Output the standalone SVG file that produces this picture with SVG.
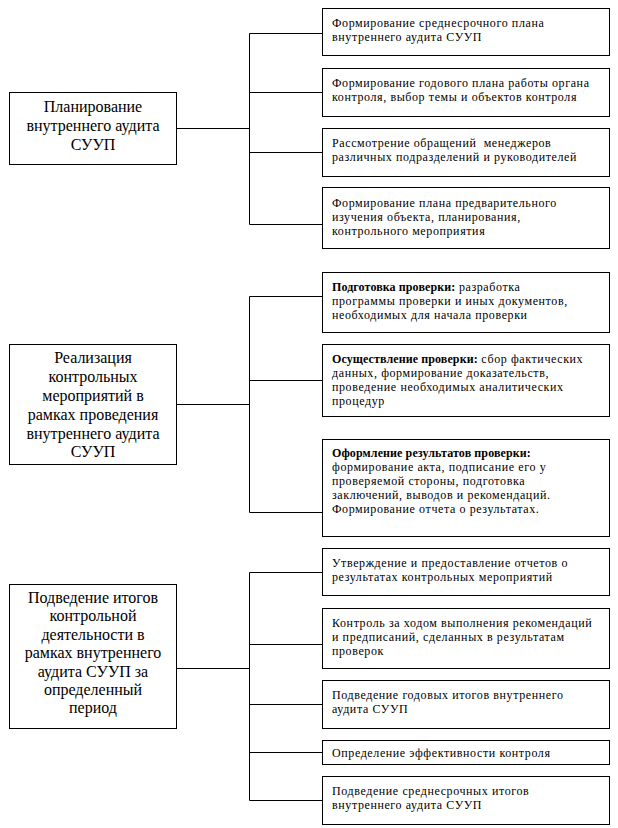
<svg xmlns="http://www.w3.org/2000/svg" width="618" height="828" viewBox="0 0 618 828">
<style>
.box{fill:#fff;stroke:#000;stroke-width:1}
.ln{stroke:#000;stroke-width:1;fill:none}
.lt{font-family:"Liberation Serif","Times New Roman",serif;font-size:16px;fill:#000;text-anchor:middle}
.rt{font-family:"Liberation Serif","Times New Roman",serif;font-size:12px;fill:#000;letter-spacing:0.6px}
.b{font-weight:bold;letter-spacing:0.1px}
</style>
<rect width="618" height="828" fill="#fff"/>
<g id="connectors">
<path class="ln" d="M176.5 128.5H249.5M249.5 33.5V224.5M249.5 33.5H322.5M249.5 92.5H322.5M249.5 152.5H322.5M249.5 224.5H322.5"/>
<path class="ln" d="M176.5 404.5H249.5M249.5 296.5V512.5M249.5 296.5H322.5M249.5 380.5H322.5M249.5 512.5H322.5"/>
<path class="ln" d="M176.5 668.5H249.5M249.5 572.5V800.5M249.5 572.5H322.5M249.5 644.5H322.5M249.5 704.5H322.5M249.5 752.5H322.5M249.5 800.5H322.5"/>
</g>
<g id="left1">
<rect class="box" x="9.5" y="92.5" width="167" height="72"/>
<text class="lt" x="93" y="112">Планирование</text>
<text class="lt" x="93" y="131">внутреннего аудита</text>
<text class="lt" x="93" y="150">СУУП</text>
</g>
<g id="r1a">
<rect class="box" x="322.5" y="8.5" width="287" height="47"/>
<text class="rt" x="332" y="27">Формирование среднесрочного плана</text>
<text class="rt" x="332" y="41">внутреннего аудита СУУП</text>
</g>
<g id="r1b">
<rect class="box" x="322.5" y="68.5" width="287" height="48"/>
<text class="rt" x="332" y="87">Формирование годового плана работы органа</text>
<text class="rt" x="332" y="101">контроля, выбор темы и объектов контроля</text>
</g>
<g id="r1c">
<rect class="box" x="322.5" y="128.5" width="287" height="48"/>
<text class="rt" x="332" y="147" xml:space="preserve">Рассмотрение обращений  менеджеров</text>
<text class="rt" x="332" y="161">различных подразделений и руководителей</text>
</g>
<g id="r1d">
<rect class="box" x="322.5" y="187.5" width="287" height="61"/>
<text class="rt" x="332" y="207">Формирование плана предварительного</text>
<text class="rt" x="332" y="221">изучения объекта, планирования,</text>
<text class="rt" x="332" y="235">контрольного мероприятия</text>
</g>
<g id="left2">
<rect class="box" x="9.5" y="344.5" width="167" height="120"/>
<text class="lt" x="93" y="363">Реализация</text>
<text class="lt" x="93" y="382">контрольных</text>
<text class="lt" x="93" y="401">мероприятий в</text>
<text class="lt" x="93" y="420">рамках проведения</text>
<text class="lt" x="93" y="439">внутреннего аудита</text>
<text class="lt" x="93" y="457">СУУП</text>
</g>
<g id="r2a">
<rect class="box" x="322.5" y="272.5" width="287" height="60"/>
<text class="rt" x="332" y="291"><tspan class="b">Подготовка проверки:</tspan> разработка</text>
<text class="rt" x="332" y="305">программы проверки и иных документов,</text>
<text class="rt" x="332" y="319">необходимых для начала проверки</text>
</g>
<g id="r2b">
<rect class="box" x="322.5" y="344.5" width="287" height="72"/>
<text class="rt" x="332" y="363"><tspan class="b">Осуществление проверки:</tspan> сбор фактических</text>
<text class="rt" x="332" y="377">данных, формирование доказательств,</text>
<text class="rt" x="332" y="391">проведение необходимых аналитических</text>
<text class="rt" x="332" y="405">процедур</text>
</g>
<g id="r2c">
<rect class="box" x="322.5" y="439.5" width="287" height="97"/>
<text class="rt b" x="332" y="457">Оформление результатов проверки:</text>
<text class="rt" x="332" y="471">формирование акта, подписание его у</text>
<text class="rt" x="332" y="485">проверяемой стороны, подготовка</text>
<text class="rt" x="332" y="499">заключений, выводов и рекомендаций.</text>
<text class="rt" x="332" y="513">Формирование отчета о результатах.</text>
</g>
<g id="left3">
<rect class="box" x="9.5" y="584.5" width="167" height="144"/>
<text class="lt" x="93" y="603">Подведение итогов</text>
<text class="lt" x="93" y="621.4">контрольной</text>
<text class="lt" x="93" y="639.8">деятельности в</text>
<text class="lt" x="93" y="658.2">рамках внутреннего</text>
<text class="lt" x="93" y="676.6">аудита СУУП за</text>
<text class="lt" x="93" y="695">определенный</text>
<text class="lt" x="93" y="713.4">период</text>
</g>
<g id="r3a">
<rect class="box" x="322.5" y="548.5" width="287" height="47"/>
<text class="rt" x="332" y="567">Утверждение и предоставление отчетов о</text>
<text class="rt" x="332" y="581">результатах контрольных мероприятий</text>
</g>
<g id="r3b">
<rect class="box" x="322.5" y="608.5" width="287" height="60"/>
<text class="rt" x="332" y="627">Контроль за ходом выполнения рекомендаций</text>
<text class="rt" x="332" y="641">и предписаний, сделанных в результатам</text>
<text class="rt" x="332" y="655">проверок</text>
</g>
<g id="r3c">
<rect class="box" x="322.5" y="680.5" width="287" height="48"/>
<text class="rt" x="332" y="699">Подведение годовых итогов внутреннего</text>
<text class="rt" x="332" y="713">аудита СУУП</text>
</g>
<g id="r3d">
<rect class="box" x="322.5" y="740.5" width="287" height="24"/>
<text class="rt" x="332" y="757">Определение эффективности контроля</text>
</g>
<g id="r3e">
<rect class="box" x="322.5" y="776.5" width="287" height="48"/>
<text class="rt" x="332" y="795">Подведение среднесрочных итогов</text>
<text class="rt" x="332" y="809">внутреннего аудита СУУП</text>
</g>
</svg>
